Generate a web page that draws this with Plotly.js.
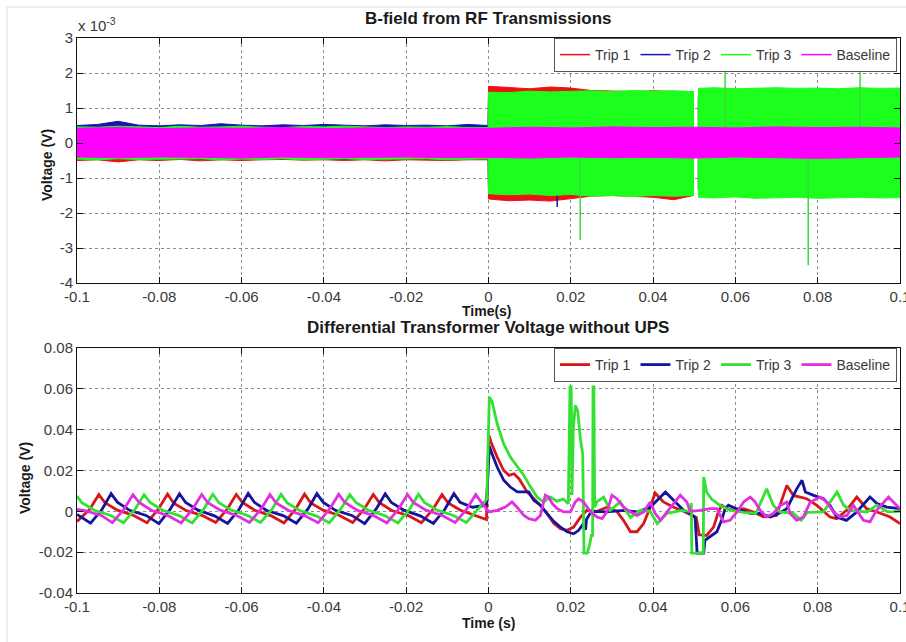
<!DOCTYPE html>
<html>
<head>
<meta charset="utf-8">
<script src="https://cdn.plot.ly/plotly-3.0.1.min.js"></script>
<style>html,body{margin:0;padding:0;background:#fff;}#chart{width:906px;height:642px;}</style>
</head>
<body>
<div id="chart"></div>
<script>
// ---------- Top panel: B-field noise envelopes (units of 1e-3 V) ----------
const tripT = [-0.1,-0.095,-0.09,-0.085,-0.08,-0.075,-0.07,-0.065,-0.06,-0.055,-0.05,-0.045,-0.04,-0.035,-0.03,-0.025,-0.02,-0.015,-0.01,-0.005,-0.0001,
  0,0.005,0.01,0.015,0.02,0.025,0.03,0.035,0.04,0.045,0.0498,null,
  0.051,0.055,0.06,0.065,0.07,0.075,0.08,0.085,0.09,0.095,0.1];
const trip1Hi = [0.45,0.48,0.44,0.47,0.45,0.43,0.46,0.44,0.47,0.45,0.44,0.46,0.45,0.43,0.46,0.44,0.47,0.45,0.44,0.46,0.45,
  1.62,1.58,1.55,1.60,1.57,1.50,1.48,1.47,1.49,1.48,1.46,null,
  1.35,1.38,1.36,1.37,1.35,1.38,1.36,1.37,1.35,1.36,1.35];
const trip1Lo = [-0.50,-0.48,-0.54,-0.48,-0.50,-0.47,-0.51,-0.48,-0.50,-0.48,-0.47,-0.49,-0.48,-0.50,-0.48,-0.51,-0.48,-0.49,-0.50,-0.48,-0.48,
  -1.60,-1.65,-1.63,-1.66,-1.58,-1.52,-1.50,-1.52,-1.55,-1.62,-1.50,null,
  -1.35,-1.36,-1.35,-1.37,-1.36,-1.35,-1.37,-1.36,-1.35,-1.36,-1.35];
const trip2Hi = [0.50,0.53,0.62,0.51,0.49,0.52,0.50,0.55,0.51,0.49,0.52,0.50,0.53,0.51,0.49,0.52,0.50,0.51,0.49,0.53,0.50,
  1.30,1.31,1.30,1.32,1.30,1.31,1.30,1.31,1.30,1.31,1.30,null,
  1.30,1.31,1.30,1.31,1.30,1.31,1.30,1.31,1.30,1.31,1.30];
const trip2Lo = [-0.43,-0.45,-0.42,-0.44,-0.46,-0.43,-0.45,-0.42,-0.44,-0.43,-0.45,-0.42,-0.44,-0.46,-0.43,-0.44,-0.42,-0.45,-0.43,-0.44,-0.42,
  -1.30,-1.31,-1.30,-1.32,-1.30,-1.31,-1.30,-1.31,-1.30,-1.31,-1.30,null,
  -1.30,-1.31,-1.30,-1.31,-1.30,-1.31,-1.30,-1.31,-1.30,-1.31,-1.30];
const trip3Hi = [0.46,0.45,0.48,0.46,0.44,0.48,0.45,0.46,0.48,0.45,0.44,0.47,0.46,0.48,0.45,0.44,0.46,0.45,0.47,0.44,0.44,
  1.45,1.44,1.48,1.46,1.47,1.49,1.47,1.50,1.48,1.49,1.47,null,
  1.56,1.58,1.55,1.57,1.58,1.56,1.57,1.55,1.58,1.56,1.57];
const trip3Lo = [-0.46,-0.48,-0.45,-0.47,-0.48,-0.46,-0.45,-0.48,-0.46,-0.47,-0.45,-0.48,-0.46,-0.45,-0.47,-0.48,-0.46,-0.45,-0.48,-0.46,-0.45,
  -1.45,-1.48,-1.46,-1.50,-1.47,-1.52,-1.50,-1.53,-1.50,-1.52,-1.50,null,
  -1.55,-1.57,-1.54,-1.58,-1.56,-1.55,-1.58,-1.56,-1.55,-1.57,-1.56];
const baseT  = [-0.1,-0.09,-0.08,-0.07,-0.06,-0.05,-0.04,-0.03,-0.02,-0.01,0,0.01,0.02,0.03,0.04,0.05,0.06,0.07,0.08,0.09,0.1];
const baseHi = [0.42,0.44,0.41,0.43,0.42,0.44,0.41,0.43,0.42,0.41,0.42,0.45,0.43,0.46,0.44,0.45,0.43,0.46,0.44,0.45,0.43];
const baseLo = [-0.40,-0.42,-0.40,-0.41,-0.43,-0.40,-0.42,-0.41,-0.40,-0.42,-0.41,-0.43,-0.40,-0.42,-0.41,-0.43,-0.40,-0.42,-0.44,-0.41,-0.40];
const trip2SpikeT = [0.0167];
const trip2SpikeV = [-1.83];
const trip3SpikeT = [0.0223, 0.0575, 0.0777, 0.0903];
const trip3SpikeV = [-2.77, 2.08, -3.49, 2.23];

// ---------- Bottom panel: differential transformer voltage (V) ----------
const trip1T = [-0.1000,-0.0969,-0.0947,-0.0932,-0.0902,-0.0862,
  -0.0830,-0.0802,-0.0780,-0.0765,-0.0735,-0.0695,
  -0.0663,-0.0635,-0.0613,-0.0598,-0.0568,-0.0528,
  -0.0497,-0.0469,-0.0447,-0.0432,-0.0402,-0.0362,
  -0.0330,-0.0302,-0.0280,-0.0265,-0.0235,-0.0195,
  -0.0163,-0.0135,-0.0113,-0.0098,-0.0068,-0.0028,-0.0005,
  0.0001,0.0006,0.0021,0.0037,0.0050,0.0062,0.0074,0.0082,0.0094,0.0110,0.0126,0.0142,0.0159,0.0175,0.0191,0.0207,0.0223,0.0239,
  0.0264,0.0288,0.0312,0.0328,0.0345,0.0361,0.0377,0.0393,0.0405,0.0425,0.0450,0.0474,0.0490,0.0505,0.0512,0.0530,0.0547,0.0559,
  0.0567,0.0579,0.0595,0.0620,0.0644,0.0668,0.0700,0.0725,0.0741,0.0757,0.0773,0.0798,0.0830,0.0846,0.0870,0.0895,0.0919,0.0944,0.0976,0.1000];
const trip1V = [-0.0050,0.0010,0.0082,0.0042,0.0006,-0.0020,
  -0.0056,0.0012,0.0085,0.0040,0.0004,-0.0021,
  -0.0055,0.0010,0.0083,0.0043,0.0005,-0.0022,
  -0.0057,0.0011,0.0084,0.0041,0.0006,-0.0020,
  -0.0055,0.0012,0.0083,0.0042,0.0004,-0.0021,
  -0.0056,0.0010,0.0082,0.0041,0.0005,-0.0022,-0.0040,
  0.0372,0.0340,0.0266,0.0200,0.0176,0.0184,0.0160,0.0135,0.0095,0.0062,0.0030,-0.0010,-0.0060,-0.0085,-0.0093,-0.0077,-0.0030,0.0005,
  0.0000,0.0020,0.0000,-0.0044,-0.0100,-0.0100,-0.0060,0.0020,0.0090,0.0046,0.0020,0.0000,-0.0015,-0.0030,-0.0115,-0.0118,-0.0077,0.0000,
  0.0030,0.0013,0.0005,0.0013,-0.0003,-0.0027,-0.0020,0.0127,0.0078,0.0070,0.0062,0.0029,-0.0028,-0.0036,0.0005,0.0070,0.0013,-0.0003,-0.0028,-0.0060];

const trip2T = [-0.1000,-0.0967,-0.0939,-0.0917,-0.0902,-0.0872,-0.0832,
  -0.0801,-0.0773,-0.0751,-0.0736,-0.0706,-0.0666,
  -0.0634,-0.0606,-0.0584,-0.0569,-0.0539,-0.0499,
  -0.0467,-0.0439,-0.0417,-0.0402,-0.0372,-0.0332,
  -0.0301,-0.0273,-0.0251,-0.0236,-0.0206,-0.0166,
  -0.0134,-0.0106,-0.0084,-0.0069,-0.0039,-0.0005,
  0.0002,0.0009,0.0021,0.0037,0.0053,0.0070,0.0082,0.0098,0.0110,0.0126,0.0142,0.0159,0.0175,0.0191,0.0207,0.0219,0.0231,0.0236,0.0238,
  0.0250,0.0288,0.0328,0.0361,0.0393,0.0410,0.0430,0.0442,0.0458,0.0474,0.0490,0.0502,0.0507,0.0523,0.0526,0.0538,0.0555,0.0567,
  0.0575,0.0583,0.0603,0.0636,0.0660,0.0685,0.0705,0.0725,0.0749,0.0762,0.0770,0.0790,0.0814,0.0830,0.0846,0.0870,0.0895,0.0927,0.0944,0.0968,0.1000];
const trip2V = [-0.0015,-0.0058,0.0010,0.0087,0.0045,0.0005,-0.0020,
  -0.0060,0.0012,0.0086,0.0043,0.0006,-0.0022,
  -0.0059,0.0010,0.0088,0.0044,0.0004,-0.0021,
  -0.0058,0.0011,0.0087,0.0045,0.0005,-0.0020,
  -0.0060,0.0012,0.0086,0.0043,0.0006,-0.0022,
  -0.0059,0.0010,0.0087,0.0044,0.0020,0.0030,
  0.0320,0.0280,0.0217,0.0152,0.0119,0.0095,0.0095,0.0095,0.0054,0.0030,-0.0010,-0.0050,-0.0077,-0.0100,-0.0110,-0.0093,-0.0060,-0.0090,-0.0040,
  0.0000,-0.0003,0.0005,-0.0003,0.0020,0.0054,0.0095,0.0070,0.0038,0.0005,-0.0010,-0.0030,-0.0205,-0.0205,-0.0142,-0.0126,-0.0100,-0.0040,
  0.0013,0.0030,0.0013,-0.0010,-0.0010,-0.0028,-0.0010,0.0013,0.0110,0.0152,0.0095,0.0078,0.0062,0.0029,-0.0028,-0.0044,-0.0003,0.0070,0.0038,0.0021,0.0013];

const trip3T = [-0.1000,-0.0988,-0.0958,-0.0918,
  -0.0887,-0.0859,-0.0837,-0.0822,-0.0792,-0.0752,
  -0.0720,-0.0692,-0.0670,-0.0655,-0.0625,-0.0585,
  -0.0554,-0.0526,-0.0504,-0.0489,-0.0459,-0.0419,
  -0.0387,-0.0359,-0.0337,-0.0322,-0.0292,-0.0252,
  -0.0220,-0.0192,-0.0170,-0.0155,-0.0125,-0.0085,
  -0.0054,-0.0026,-0.0004,
  0.0002,0.0009,0.0021,0.0037,0.0053,0.0070,0.0086,0.0102,0.0118,0.0134,0.0150,0.0166,0.0182,0.0194,0.0198,0.0201,0.0203,0.0206,
  0.0211,0.0217,0.0223,0.0229,0.0232,0.0240,0.0245,0.0250,0.0253,0.0254,0.0256,0.0258,0.0263,0.0280,0.0296,0.0320,0.0345,0.0369,
  0.0393,0.0410,0.0434,0.0470,0.0488,0.0493,0.0494,0.0522,0.0523,0.0530,0.0542,0.0562,0.0587,0.0620,0.0650,0.0676,0.0692,0.0708,
  0.0741,0.0760,0.0775,0.0814,0.0847,0.0863,0.0880,0.0920,0.0944,0.0970,0.1000];
const trip3V = [0.0075,0.0042,0.0005,-0.0020,
  -0.0056,0.0010,0.0082,0.0043,0.0005,-0.0021,
  -0.0057,0.0011,0.0084,0.0042,0.0006,-0.0020,
  -0.0055,0.0010,0.0083,0.0041,0.0004,-0.0022,
  -0.0056,0.0012,0.0082,0.0043,0.0005,-0.0021,
  -0.0057,0.0010,0.0084,0.0042,0.0006,-0.0020,
  -0.0055,0.0011,0.0060,
  0.0560,0.0535,0.0430,0.0330,0.0266,0.0217,0.0176,0.0120,0.0070,0.0046,0.0070,0.0050,0.0060,0.0037,0.0610,0.0610,0.0080,0.0400,
  0.0520,0.0490,0.0360,0.0280,-0.0205,-0.0205,-0.0170,-0.0118,-0.0118,0.0610,0.0610,0.0020,0.0046,0.0070,0.0005,0.0046,-0.0030,0.0005,
  0.0000,-0.0060,-0.0010,0.0005,0.0000,0.0040,-0.0205,-0.0205,0.0168,0.0095,0.0060,0.0030,0.0005,-0.0005,-0.0010,0.0110,0.0030,-0.0003,
  -0.0010,-0.0044,-0.0005,-0.0003,0.0095,0.0030,0.0005,-0.0003,0.0030,-0.0003,0.0000];

const baseLineT = [-0.1000,-0.0981,-0.0941,-0.0914,-0.0886,-0.0864,-0.0849,-0.0819,-0.0779,
  -0.0747,-0.0719,-0.0697,-0.0682,-0.0652,-0.0612,
  -0.0581,-0.0553,-0.0531,-0.0516,-0.0486,-0.0446,
  -0.0414,-0.0386,-0.0364,-0.0349,-0.0319,-0.0279,
  -0.0247,-0.0219,-0.0197,-0.0182,-0.0152,-0.0112,
  -0.0081,-0.0053,-0.0031,-0.0016,
  0.0001,0.0021,0.0041,0.0057,0.0069,0.0086,0.0098,0.0114,0.0126,0.0138,0.0146,0.0155,0.0167,0.0183,0.0199,0.0211,0.0219,0.0231,
  0.0248,0.0264,0.0276,0.0288,0.0300,0.0312,0.0328,0.0345,0.0361,0.0377,0.0393,0.0405,0.0418,0.0434,0.0466,0.0482,
  0.0490,0.0515,0.0539,0.0555,0.0571,0.0587,0.0604,0.0620,0.0636,0.0648,0.0660,0.0676,0.0692,0.0709,0.0725,0.0733,0.0749,0.0765,
  0.0782,0.0806,0.0822,0.0838,0.0854,0.0871,0.0887,0.0911,0.0927,0.0943,0.0972,0.0992,0.1000];
const baseLineV = [0.0010,0.0003,-0.0020,-0.0056,0.0010,0.0082,0.0043,0.0005,-0.0021,
  -0.0057,0.0011,0.0083,0.0042,0.0006,-0.0020,
  -0.0055,0.0010,0.0082,0.0041,0.0004,-0.0022,
  -0.0056,0.0012,0.0084,0.0043,0.0005,-0.0021,
  -0.0057,0.0010,0.0083,0.0042,0.0006,-0.0020,
  -0.0055,0.0011,0.0082,0.0040,
  -0.0003,0.0005,0.0021,0.0046,0.0021,-0.0020,-0.0036,-0.0044,-0.0020,0.0079,0.0070,0.0038,0.0013,-0.0003,-0.0003,0.0046,0.0062,0.0046,
  -0.0003,-0.0028,-0.0036,-0.0003,0.0079,0.0062,0.0021,-0.0003,-0.0020,-0.0003,0.0046,-0.0010,-0.0044,-0.0003,0.0079,0.0046,
  0.0000,0.0005,0.0013,0.0013,-0.0052,-0.0044,-0.0003,0.0046,0.0070,0.0046,0.0005,-0.0028,-0.0011,0.0029,0.0046,-0.0011,-0.0044,-0.0028,
  0.0046,0.0070,0.0046,-0.0003,-0.0028,-0.0020,0.0029,-0.0044,-0.0052,0.0005,0.0070,0.0029,0.0013];

// ---------- Labels ----------
const seriesNames = ['Trip 1','Trip 2','Trip 3','Baseline'];
const xTickVals = [-0.1,-0.08,-0.06,-0.04,-0.02,0,0.02,0.04,0.06,0.08,0.1];
const xTickText = ['-0.1','-0.08','-0.06','-0.04','-0.02','0','0.02','0.04','0.06','0.08','0.1'];
const y1TickVals = [-4,-3,-2,-1,0,1,2,3];
const y1TickText = ['-4','-3','-2','-1','0','1','2','3'];
const y2TickVals = [-0.04,-0.02,0,0.02,0.04,0.06,0.08];
const y2TickText = ['-0.04','-0.02','0','0.02','0.04','0.06','0.08'];

// ---------- Styles ----------
const colTop = ['#ee1111','#1515b0','#1cff1c','#ff00ff'];
const colBot = ['#d81818','#14149c','#33e033','#e030e0'];

function bandPolygon(t, hi, lo) {
  const xs = [], ys = [];
  let seg = [];
  const flush = () => {
    if (!seg.length) return;
    if (xs.length) { xs.push(null); ys.push(null); }
    seg.forEach(i => { xs.push(t[i]); ys.push(hi[i]); });
    seg.slice().reverse().forEach(i => { xs.push(t[i]); ys.push(lo[i]); });
    xs.push(t[seg[0]]); ys.push(hi[seg[0]]);
    seg = [];
  };
  t.forEach((v, i) => { if (v === null) flush(); else seg.push(i); });
  flush();
  return {xs, ys};
}
function spikes(t, v) {
  const xs = [], ys = [];
  t.forEach((ti, i) => { xs.push(ti, ti, null); ys.push(0, v[i], null); });
  return {xs, ys};
}
function bandTrace(t, hi, lo, color) {
  const p = bandPolygon(t, hi, lo);
  return {x: p.xs, y: p.ys, xaxis: 'x', yaxis: 'y', type: 'scatter', mode: 'lines',
    fill: 'toself', fillcolor: color, line: {color: color, width: 1}, showlegend: false, hoverinfo: 'skip'};
}
function spikeTrace(t, v, color) {
  const p = spikes(t, v);
  return {x: p.xs, y: p.ys, xaxis: 'x', yaxis: 'y', type: 'scatter', mode: 'lines',
    line: {color: color, width: 1.5}, showlegend: false, hoverinfo: 'skip'};
}

const traces = [
  bandTrace(tripT, trip1Hi, trip1Lo, colTop[0]),
  bandTrace(tripT, trip2Hi, trip2Lo, colTop[1]),
  spikeTrace(trip2SpikeT, trip2SpikeV, colTop[1]),
  bandTrace(tripT, trip3Hi, trip3Lo, colTop[2]),
  spikeTrace(trip3SpikeT, trip3SpikeV, '#3ad83a'),
  bandTrace(baseT, baseHi, baseLo, colTop[3]),
];
// legend entries for the top panel
seriesNames.forEach((n, i) => traces.push({x: [null], y: [null], xaxis: 'x', yaxis: 'y', type: 'scatter', mode: 'lines',
  name: n, line: {color: colTop[i], width: 1.5}, legend: 'legend'}));
// bottom panel lines
[[trip1T, trip1V], [trip2T, trip2V], [trip3T, trip3V], [baseLineT, baseLineV]].forEach((d, i) => traces.push({
  x: d[0], y: d[1], xaxis: 'x2', yaxis: 'y2', type: 'scatter', mode: 'lines', name: seriesNames[i],
  line: {color: colBot[i], width: 2.8}, legend: 'legend2'}));

const W = 906, H = 642;
const px = v => v / W, py = v => 1 - v / H;
const tickFont = {family: 'Liberation Sans, Arial, sans-serif', size: 15, color: '#3a3a3a'};
const axisCommon = {showline: true, linecolor: '#111', linewidth: 1, mirror: 'ticks', ticks: 'inside',
  ticklen: 6, tickcolor: '#111', showgrid: true, gridcolor: '#8c8c8c', griddash: 'dot', gridwidth: 1,
  zeroline: false, tickfont: tickFont, tickmode: 'array', fixedrange: true, ticklabeloverflow: 'allow'};
const legendCommon = {orientation: 'h', xanchor: 'right', x: px(897), yanchor: 'top', bgcolor: '#ffffff',
  bordercolor: '#555', borderwidth: 1, font: {family: 'Liberation Sans, Arial, sans-serif', size: 14, color: '#3a3a3a'},
  itemwidth: 30, traceorder: 'normal'};
const bold = {family: 'Liberation Sans, Arial, sans-serif', size: 17, color: '#1a1a1a'};
const boldSm = {family: 'Liberation Sans, Arial, sans-serif', size: 14, color: '#1a1a1a'};
function label(text, x, y, font, extra) {
  return Object.assign({text: text, xref: 'paper', yref: 'paper', x: px(x), y: py(y), xanchor: 'center', yanchor: 'middle',
    showarrow: false, font: font}, extra || {});
}

const layout = {
  width: W, height: H, margin: {l: 0, r: 0, t: 0, b: 0}, paper_bgcolor: '#fff', plot_bgcolor: '#fff',
  showlegend: true,
  xaxis: Object.assign({}, axisCommon, {domain: [px(77), px(900)], range: [-0.1, 0.1000001], anchor: 'y',
    tickvals: xTickVals, ticktext: xTickText}),
  yaxis: Object.assign({}, axisCommon, {domain: [py(283), py(38)], range: [-4, 3.000001], anchor: 'x',
    tickvals: y1TickVals, ticktext: y1TickText}),
  xaxis2: Object.assign({}, axisCommon, {domain: [px(77), px(900)], range: [-0.1, 0.1000001], anchor: 'y2',
    tickvals: xTickVals, ticktext: xTickText}),
  yaxis2: Object.assign({}, axisCommon, {domain: [py(593), py(348)], range: [-0.04, 0.0800001], anchor: 'x2',
    tickvals: y2TickVals, ticktext: y2TickText}),
  legend: Object.assign({}, legendCommon, {y: py(38)}),
  legend2: Object.assign({}, legendCommon, {y: py(348)}),
  annotations: [
    label('<b>B-field from RF Transmissions</b>', 488, 18, bold),
    label('<b>Differential Transformer Voltage without UPS</b>', 488, 327, bold),
    label('<b>Time(s)</b>', 487, 311, boldSm),
    label('<b>Time (s)</b>', 488, 623, boldSm),
    label('<b>Voltage (V)</b>', 47, 165, boldSm, {textangle: -90}),
    label('<b>Voltage (V)</b>', 25, 478, boldSm, {textangle: -90}),
    label('x 10<sup>-3</sup>', 76, 24, tickFont, {xanchor: 'left'})
  ],
  shapes: [
    {type: 'line', xref: 'paper', yref: 'paper', x0: px(7), x1: px(7), y0: 0, y1: py(7), line: {color: '#dddddd', width: 1}},
    {type: 'line', xref: 'paper', yref: 'paper', x0: px(7), x1: 1, y0: py(7), y1: py(7), line: {color: '#dddddd', width: 1}}
  ]
};
Plotly.newPlot('chart', traces, layout, {staticPlot: true, displayModeBar: false});
</script>
</body>
</html>
